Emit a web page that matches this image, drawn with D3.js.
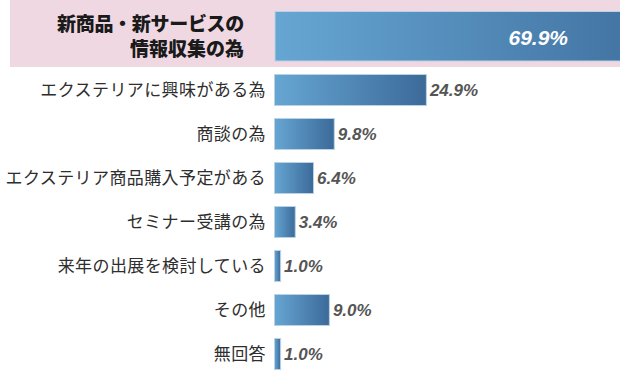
<!DOCTYPE html>
<html><head><meta charset="utf-8">
<script src="https://cdn.jsdelivr.net/npm/d3@7"></script>
<style>html,body{margin:0;padding:0;background:#fff;}svg{display:block;}</style>
</head><body><svg id="c" width="620" height="370"></svg>
<script>
const categories = ["新商品・新サービスの\n情報収集の為","エクステリアに興味がある為","商談の為","エクステリア商品購入予定がある","セミナー受講の為","来年の出展を検討している","その他","無回答"];
const values = [69.9,24.9,9.8,6.4,3.4,1.0,9.0,1.0];
const valueLabels = ["69.9%","24.9%","9.8%","6.4%","3.4%","1.0%","9.0%","1.0%"];

const W = 620, H = 370;
const svg = d3.select("#c");
const x = d3.scaleLinear().domain([0, 100]).range([274, 884]);
const y = d3.scaleBand().domain(d3.range(1, categories.length).map(String)).range([74, 369]).paddingInner(13/44).paddingOuter(0);

const defs = svg.append("defs");
const g = defs.append("linearGradient").attr("id","grad").attr("x1","0").attr("x2","1").attr("y1","0").attr("y2","0");
g.append("stop").attr("offset","0%").attr("stop-color","#66a6d3");
g.append("stop").attr("offset","100%").attr("stop-color","#3c6a99");
defs.append("clipPath").attr("id","clip").append("rect").attr("x",0).attr("y",0).attr("width",W).attr("height",H);

const root = svg.append("g").attr("clip-path","url(#clip)");

root.append("rect").attr("x",10).attr("y",0).attr("width",W-10).attr("height",67).attr("fill","#f0d8e3");
root.append("rect").attr("x",x(0)+1).attr("y",11.5).attr("width",x(values[0])-x(0)).attr("height",49.5)
  .attr("fill","url(#grad)").attr("stroke","#b9d2e6").attr("stroke-width",1);
const topLines = categories[0].split("\n");
root.append("text").attr("x",244).attr("y",31).attr("text-anchor","end")
  .attr("font-family","'Noto Sans CJK JP'").attr("font-weight",900).attr("font-size",19).attr("fill","#1a1a1a")
  .attr("letter-spacing",-0.3).text(topLines[0]);
root.append("text").attr("x",244).attr("y",56).attr("text-anchor","end")
  .attr("font-family","'Noto Sans CJK JP'").attr("font-weight",900).attr("font-size",19).attr("fill","#1a1a1a")
  .text(topLines[1]);
root.append("text").attr("x",Math.min(x(values[0]),W) - 52).attr("y",45).attr("text-anchor","end")
  .attr("font-family","'Liberation Sans', Arial").attr("font-weight","bold").attr("font-style","italic")
  .attr("font-size",21).attr("fill","#fff").text(valueLabels[0]);

const rows = d3.range(1, categories.length);
root.selectAll("rect.bar").data(rows).join("rect").attr("class","bar")
  .attr("x", x(0)+0.5).attr("y", i => y(String(i))+0.5)
  .attr("width", i => x(values[i]) - x(0)).attr("height", y.bandwidth())
  .attr("fill","url(#grad)").attr("stroke","#b9d2e6").attr("stroke-width",1);

root.selectAll("text.cat").data(rows).join("text").attr("class","cat")
  .attr("x", 266).attr("y", i => y(String(i)) + y.bandwidth()/2 + 6)
  .attr("text-anchor","end").attr("font-family","'Noto Sans CJK JP'").attr("font-size",17)
  .attr("letter-spacing",0.4).attr("fill","#2e2e2e").text(i => categories[i]);

root.selectAll("text.val").data(rows).join("text").attr("class","val")
  .attr("x", i => x(values[i]) + 4).attr("y", i => y(String(i)) + y.bandwidth()/2 + 6)
  .attr("font-family","'Liberation Sans', Arial").attr("font-weight","bold").attr("font-style","italic")
  .attr("font-size",17).attr("fill","#555").text(i => valueLabels[i]);
</script></body></html>
